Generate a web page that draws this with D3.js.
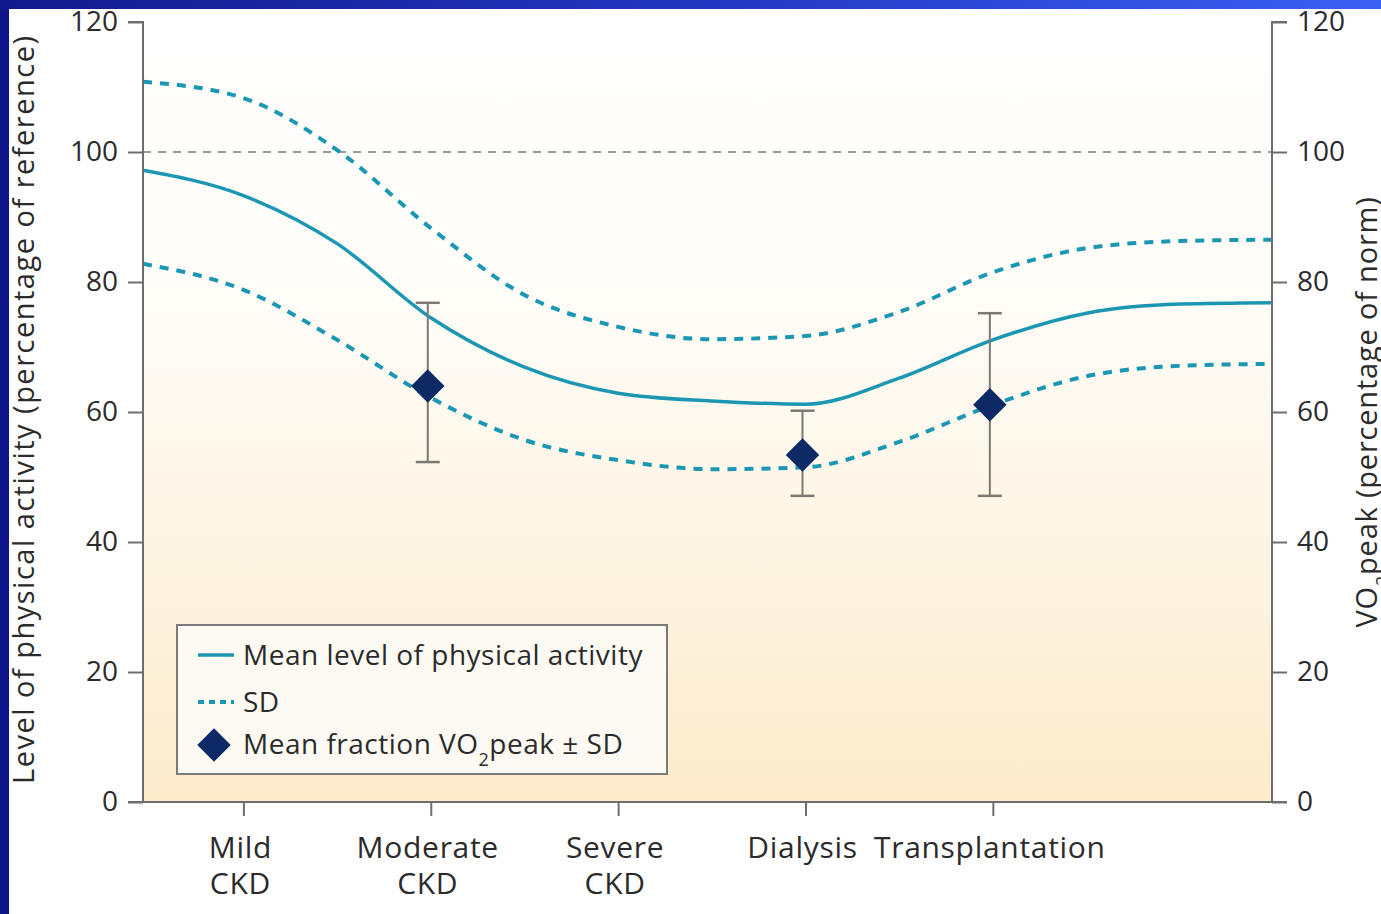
<!DOCTYPE html>
<html>
<head>
<meta charset="utf-8">
<script src="https://cdn.jsdelivr.net/npm/d3@7"></script>
<style>
  html, body { margin: 0; padding: 0; background: #0e158a; }
  svg { display: block; }
  text { font-family: "Open Sans", Lato, sans-serif; fill: #2b2b2b; }
</style>
</head>
<body>
<svg id="chart" width="1381" height="914"></svg>
<script>
// CKD stages along the x axis (index positions 0..4)
const stages = [["Mild", "CKD"], ["Moderate", "CKD"], ["Severe", "CKD"], ["Dialysis"], ["Transplantation"]];
const stageIdx = [0, 1, 2, 3, 4];

// sample positions along the stage axis for the smooth curves
const curveX = [-0.536, 0, 0.5, 1, 1.5, 2, 2.5, 3, 3.5, 4, 4.5, 5, 5.49];
// mean level of physical activity (% of reference)
const meanActivity = [97.2, 93.3, 85.9, 74.5, 66.9, 62.9, 61.7, 61.2, 65.2, 71.1, 75.2, 76.6, 76.8];
// +/- SD envelope
const sdUpper = [110.8, 108.3, 100.3, 88.3, 78.0, 73.1, 71.2, 71.7, 75.4, 81.5, 85.2, 86.3, 86.5];
const sdLower = [82.8, 78.8, 71.1, 62.2, 55.7, 52.6, 51.2, 51.5, 55.4, 61.1, 65.5, 67.1, 67.4];

// VO2peak (% of norm): stage index, mean, low, high
const vo2Stage = [1, 3, 4];
const vo2Mean = [64.0, 53.4, 61.1];
const vo2Low = [52.3, 47.1, 47.1];
const vo2High = [76.8, 60.2, 75.2];

const yTicks = [0, 20, 40, 60, 80, 100, 120];
const referenceLevel = 100;

const svg = d3.select("#chart");
const W = 1381, H = 914;

// slide frame
const defs = svg.append("defs");
const topGrad = defs.append("linearGradient").attr("id", "topBar").attr("x1", 0).attr("x2", 1).attr("y1", 0).attr("y2", 0);
topGrad.append("stop").attr("offset", 0).attr("stop-color", "#131a8c");
topGrad.append("stop").attr("offset", 0.5).attr("stop-color", "#2236c0");
topGrad.append("stop").attr("offset", 1).attr("stop-color", "#3b60f4");
svg.append("rect").attr("width", W).attr("height", H).attr("fill", "#0e158a");
svg.append("rect").attr("width", W).attr("height", 9).attr("fill", "url(#topBar)");
svg.append("rect").attr("x", 9).attr("y", 9).attr("width", W - 9).attr("height", H - 9).attr("fill", "#ffffff");

const pL = 143, pR = 1272, pT = 22, pB = 802;

const x = d3.scaleLinear().domain([-0.536, 5.49]).range([pL, pR]);
const y = d3.scaleLinear().domain([0, 120]).range([pB, pT]);

// plot background: white fading to pale peach
const bgGrad = defs.append("linearGradient").attr("id", "plotBg").attr("x1", 0).attr("x2", 0).attr("y1", 0).attr("y2", 1);
bgGrad.append("stop").attr("offset", 0).attr("stop-color", "#ffffff");
bgGrad.append("stop").attr("offset", 0.35).attr("stop-color", "#fffdf8");
bgGrad.append("stop").attr("offset", 0.7).attr("stop-color", "#fdf4e2");
bgGrad.append("stop").attr("offset", 1).attr("stop-color", "#fcebcb");
svg.append("rect").attr("x", pL).attr("y", pT).attr("width", pR - pL).attr("height", pB - pT)
  .attr("fill", "url(#plotBg)");

// reference line at 100%
svg.append("line")
  .attr("x1", pL).attr("x2", pR)
  .attr("y1", y(referenceLevel)).attr("y2", y(referenceLevel))
  .attr("stroke", "#7a7a7a").attr("stroke-width", 1.6).attr("stroke-dasharray", "8,7");

const teal = "#1b97b3";
const line = d3.line().x((d, i) => x(curveX[i])).y(d => y(d)).curve(d3.curveMonotoneX);

svg.append("path").datum(sdUpper).attr("d", line).attr("fill", "none")
  .attr("stroke", teal).attr("stroke-width", 4).attr("stroke-dasharray", "9,8");
svg.append("path").datum(sdLower).attr("d", line).attr("fill", "none")
  .attr("stroke", teal).attr("stroke-width", 4).attr("stroke-dasharray", "9,8");
svg.append("path").datum(meanActivity).attr("d", line).attr("fill", "none")
  .attr("stroke", teal).attr("stroke-width", 3.5);

// error bars and diamonds
const errColor = "#7d7873";
const bars = svg.append("g");
vo2Stage.forEach((s, i) => {
  const cx = x(s) - 3;
  bars.append("line").attr("x1", cx).attr("x2", cx).attr("y1", y(vo2High[i])).attr("y2", y(vo2Low[i]))
    .attr("stroke", errColor).attr("stroke-width", 2);
  [vo2High[i], vo2Low[i]].forEach(v => {
    bars.append("line").attr("x1", cx - 12).attr("x2", cx + 12).attr("y1", y(v)).attr("y2", y(v))
      .attr("stroke", errColor).attr("stroke-width", 2.5);
  });
  bars.append("path")
    .attr("d", d3.symbol(d3.symbolSquare, 560)())
    .attr("transform", `translate(${cx},${y(vo2Mean[i])}) rotate(45)`)
    .attr("fill", "#0d2a66");
});

// axes
const axisColor = "#6e6e6e";
const leftAxis = svg.append("g").attr("transform", `translate(${pL},0)`)
  .call(d3.axisLeft(y).tickValues(yTicks).tickSize(15).tickPadding(10));
const rightAxis = svg.append("g").attr("transform", `translate(${pR},0)`)
  .call(d3.axisRight(y).tickValues(yTicks).tickSize(15).tickPadding(10));
const bottomAxis = svg.append("g").attr("transform", `translate(0,${pB})`)
  .call(d3.axisBottom(x).tickValues(stageIdx).tickSize(14).tickFormat(""));

[leftAxis, rightAxis, bottomAxis].forEach(g => {
  g.select(".domain").attr("stroke", axisColor).attr("stroke-width", 2);
  g.selectAll(".tick line").attr("stroke", axisColor).attr("stroke-width", 2);
  g.selectAll(".tick text").attr("font-size", 28).attr("fill", "#2b2b2b")
    .style("font-family", "'Open Sans', Lato, sans-serif");
});
leftAxis.select(".domain").attr("d", `M-15,${pT}H0V${pB}H-15`);
rightAxis.select(".domain").attr("d", `M15,${pT}H0V${pB}H15`);
bottomAxis.select(".domain").attr("d", `M${pL - 15},0H${pR + 15}`);

// stage labels, one text per line
const stageLabels = svg.append("g");
stages.forEach((lines, i) => {
  lines.forEach((l, j) => {
    stageLabels.append("text")
      .attr("x", x(stageIdx[i]) - 3).attr("y", 858 + j * 36)
      .attr("text-anchor", "middle").attr("font-size", 30)
      .attr("letter-spacing", 0.7)
      .text(l);
  });
});

// axis titles
svg.append("text")
  .attr("transform", `translate(34,410) rotate(-90)`)
  .attr("text-anchor", "middle").attr("font-size", 29)
  .attr("textLength", 748).attr("lengthAdjust", "spacing")
  .text("Level of physical activity (percentage of reference)");
const rt = svg.append("text")
  .attr("transform", `translate(1377,412) rotate(-90)`)
  .attr("text-anchor", "middle").attr("font-size", 29)
  .attr("letter-spacing", 0.8);
rt.append("tspan").text("VO");
rt.append("tspan").attr("baseline-shift", "sub").attr("font-size", 18).text("2");
rt.append("tspan").text("peak (percentage of norm)");

// legend
const lg = svg.append("g").attr("transform", "translate(177,625)");
lg.append("rect").attr("width", 490).attr("height", 149)
  .attr("fill", "#fdfaf3").attr("stroke", "#7a7a7a").attr("stroke-width", 2);
lg.append("line").attr("x1", 21).attr("x2", 57).attr("y1", 30).attr("y2", 30)
  .attr("stroke", teal).attr("stroke-width", 3.5);
lg.append("line").attr("x1", 21).attr("x2", 57).attr("y1", 77).attr("y2", 77)
  .attr("stroke", teal).attr("stroke-width", 4).attr("stroke-dasharray", "6,5");
lg.append("path").attr("d", d3.symbol(d3.symbolSquare, 560)())
  .attr("transform", "translate(37,120) rotate(45)").attr("fill", "#0d2a66");
const legendText = lg.append("g").attr("font-size", 28).attr("letter-spacing", 0.5);
legendText.append("text").attr("x", 66).attr("y", 40).text("Mean level of physical activity");
legendText.append("text").attr("x", 66).attr("y", 87).text("SD");
const l3 = legendText.append("text").attr("x", 66).attr("y", 129);
l3.append("tspan").text("Mean fraction VO");
l3.append("tspan").attr("baseline-shift", "sub").attr("font-size", 18).text("2");
l3.append("tspan").text("peak ± SD");
</script>
</body>
</html>
